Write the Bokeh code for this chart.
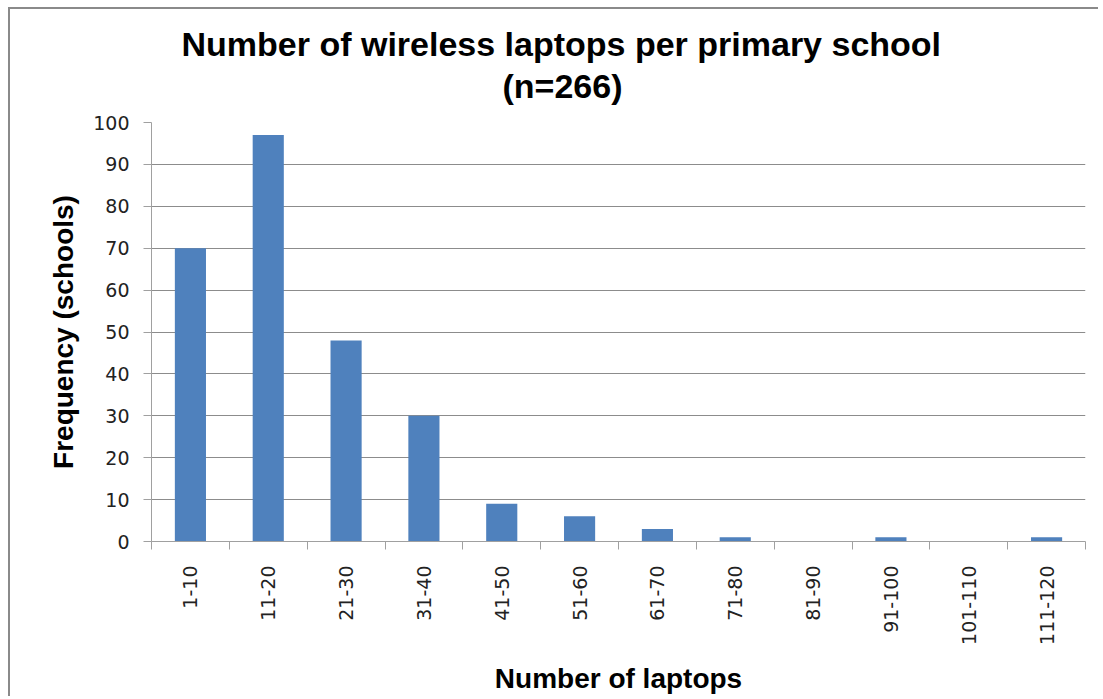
import math
from bokeh.plotting import figure
from bokeh.models import Range1d, FixedTicker, Title
from bokeh.embed import file_html
from bokeh.resources import INLINE

categories = ["1-10", "11-20", "21-30", "31-40", "41-50", "51-60",
              "61-70", "71-80", "81-90", "91-100", "101-110", "111-120"]
frequency = [70, 97, 48, 30, 9, 6, 3, 1, 0, 1, 0, 1]
y_ticks = [0, 10, 20, 30, 40, 50, 60, 70, 80, 90, 100]
title_line1 = "Number of wireless laptops per primary school"
title_line2 = "(n=266)"
x_title = "Number of laptops"
y_title = "Frequency (schools)"

n = len(categories)
centers = [i + 0.5 for i in range(n)]
bounds = list(range(n + 1))

p = figure(width=1090, height=689, output_backend="svg", toolbar_location=None,
           x_range=Range1d(0, n), y_range=Range1d(0, 100),
           min_border_left=141, min_border_right=15,
           min_border_top=113, min_border_bottom=157)
p.styles = {"margin-left": "8px", "margin-top": "7px",
            "border-left": "2px solid #8a8a8a", "border-top": "2px solid #8a8a8a"}
p.background_fill_color = "white"
p.border_fill_color = "white"
p.outline_line_color = None

p.vbar(x=centers, top=frequency, width=0.4, bottom=0,
       fill_color="#4F81BD", line_color=None)

axis_color = "#a0a0a0"
p.xaxis.ticker = FixedTicker(ticks=centers, minor_ticks=bounds)
p.xaxis.major_label_overrides = {c: lab for c, lab in zip(centers, categories)}
p.xaxis.major_label_orientation = math.pi / 2
p.xaxis.major_tick_line_color = None
p.xaxis.major_tick_out = 0
p.xaxis.major_tick_in = 0
p.xaxis.minor_tick_line_color = axis_color
p.xaxis.minor_tick_out = 8
p.xaxis.minor_tick_in = 0
p.xaxis.major_label_standoff = 16
p.xaxis.axis_line_color = axis_color
p.xaxis.axis_label = x_title
p.xaxis.axis_label_standoff = 15

p.yaxis.ticker = FixedTicker(ticks=y_ticks)
p.yaxis.major_tick_out = 8
p.yaxis.major_tick_in = 0
p.yaxis.major_tick_line_color = axis_color
p.yaxis.minor_tick_line_color = None
p.yaxis.major_label_standoff = 14
p.yaxis.axis_line_color = axis_color
p.yaxis.axis_label = y_title
p.yaxis.axis_label_standoff = 11

for ax in (p.xaxis, p.yaxis):
    ax.major_label_text_font = "DejaVu Sans"
    ax.major_label_text_font_size = "19px"
    ax.major_label_text_color = "#222222"
    ax.axis_label_text_font = "Liberation Sans"
    ax.axis_label_text_font_size = "28px"
    ax.axis_label_text_font_style = "bold"
    ax.axis_label_text_color = "black"

p.xgrid.grid_line_color = None
p.ygrid.ticker = FixedTicker(ticks=y_ticks)
p.ygrid.grid_line_color = "#8c8c8c"
p.ygrid.grid_line_width = 1

# subtitle first (nearest the frame), then the main line above it
p.add_layout(Title(text=title_line2, align="left", offset=351, standoff=36,
                   text_font="Liberation Sans", text_font_size="34px",
                   text_font_style="bold", text_color="black"), "above")
p.add_layout(Title(text=title_line1, align="left", offset=30, standoff=-33,
                   text_font="Liberation Sans", text_font_size="34px",
                   text_font_style="bold", text_color="black"), "above")

open("out.html", "w").write(file_html(p, INLINE))
